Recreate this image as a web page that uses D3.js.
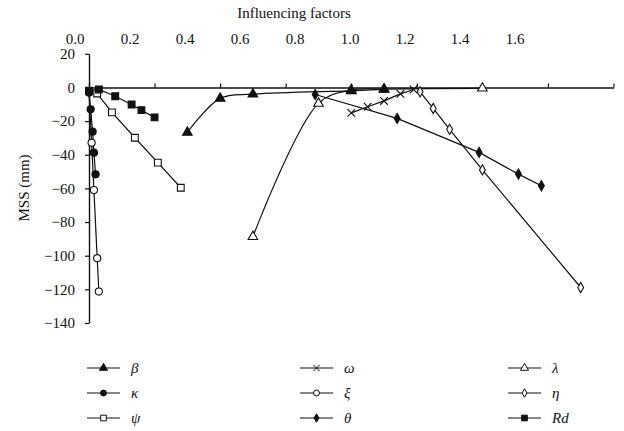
<!DOCTYPE html>
<html>
<head>
<meta charset="utf-8">
<script src="https://cdn.jsdelivr.net/npm/d3@7"></script>
<style>
  body { margin: 0; background: #fff; }
  text { font-family: "Liberation Serif", "DejaVu Serif", serif; fill: #111; }
</style>
</head>
<body>
<svg id="chart"></svg>
<script>
const width = 624, height = 431;

// axis ticks
const xTicks = [0, 0.2, 0.4, 0.6, 0.8, 1.0, 1.2, 1.4, 1.6];
const yTicks = [20, 0, -20, -40, -60, -80, -100, -120, -140];

// series values [influencing factor, MSS]
const beta   = [[0.30, -26.7], [0.40, -6.5], [0.50, -4.0], [0.80, -2.0], [0.90, -1.2]];
const kappa  = [[0.000, -3.0], [0.005, -13.0], [0.011, -26.3], [0.015, -38.8], [0.020, -51.6]];
const psi    = [[0.025, -3.6], [0.07, -14.8], [0.14, -29.9], [0.21, -44.7], [0.28, -59.6]];
const omega  = [[0.80, -15.1], [0.85, -11.5], [0.90, -8.0], [0.95, -3.8], [0.99, -1.2]];
const xi     = [[0.000, -3.0], [0.008, -32.9], [0.015, -61.0], [0.025, -101.5], [0.030, -121.3]];
const theta  = [[0.69, -4.2], [0.94, -18.4], [1.19, -38.6], [1.31, -51.5], [1.38, -58.4]];
const lambda = [[0.50, -88.7], [0.70, -9.5], [0.80, -1.5], [0.90, -1.0], [1.20, -0.5]];
const eta    = [[1.01, -2.6], [1.05, -12.5], [1.10, -24.9], [1.20, -49.0], [1.50, -118.9]];
const rd     = [[0.000, -2.0], [0.03, -1.2], [0.08, -5.2], [0.13, -10.1], [0.16, -13.5], [0.20, -17.8]];

const symX = d3.symbolTimes || d3.symbolX;

// legend order: columns left to right, rows top to bottom
const series = [
  {name: "β",  data: beta,   sym: d3.symbolTriangle, fill: true,  smooth: true,  col: 0, row: 0},
  {name: "κ",  data: kappa,  sym: d3.symbolCircle,   fill: true,  smooth: false, col: 0, row: 1},
  {name: "ψ",  data: psi,    sym: d3.symbolSquare,   fill: false, smooth: false, col: 0, row: 2},
  {name: "ω",  data: omega,  sym: symX,              fill: false, smooth: false, col: 1, row: 0},
  {name: "ξ",  data: xi,     sym: d3.symbolCircle,   fill: false, smooth: false, col: 1, row: 1},
  {name: "θ",  data: theta,  sym: d3.symbolDiamond,  fill: true,  smooth: false, col: 1, row: 2},
  {name: "λ",  data: lambda, sym: d3.symbolTriangle, fill: false, smooth: true,  col: 2, row: 0},
  {name: "η",  data: eta,    sym: d3.symbolDiamond,  fill: false, smooth: false, col: 2, row: 1},
  {name: "Rd", data: rd,     sym: d3.symbolSquare,   fill: true,  smooth: false, col: 2, row: 2}
];
// λ goes underneath so the filled β triangles stay on top
const drawOrder = ["λ", "η", "ω", "θ", "ξ", "ψ", "κ", "Rd", "β"];

const svg = d3.select('#chart').attr('width', width).attr('height', height);
svg.append('rect').attr('width', width).attr('height', height).attr('fill', '#fff');

const x = d3.scaleLinear().domain([0, 1.6]).range([89, 613.5]);
const y = d3.scaleLinear().domain([20, -140]).range([53.8, 323]);
// tick labels of the top axis sit on their own spacing in the original
const xLab = d3.scaleLinear().domain([0, 1.6]).range([75, 515]);

function symSize(s, legend) {
  let k = legend ? 0.7 : 1;
  if (s === d3.symbolTriangle) return 40 * k;
  if (s === d3.symbolCircle) return 40 * k;
  if (s === d3.symbolSquare) return 46 * k;
  if (s === d3.symbolDiamond) return 30 * k;
  return 40 * k;
}

// y axis
const yAxis = svg.append('g')
  .attr('transform', 'translate(' + x(0) + ',0)')
  .call(d3.axisLeft(y).tickValues(yTicks).tickSize(4).tickSizeOuter(0).tickPadding(10)
    .tickFormat(d3.format('d')));
yAxis.selectAll('text').style('font-size', '15px').style('fill', '#111');
yAxis.select('.domain').attr('stroke', '#111').attr('stroke-width', 1.4);
yAxis.selectAll('.tick line').attr('stroke', '#111').attr('stroke-width', 1.2);

// x axis along y = 0, ticks pointing up, labels drawn separately
const xAxis = svg.append('g')
  .attr('transform', 'translate(0,' + y(0) + ')')
  .call(d3.axisTop(x).tickValues(xTicks).tickSize(4).tickSizeOuter(0).tickFormat(''));
xAxis.select('.domain').attr('stroke', '#111').attr('stroke-width', 1.4);
xAxis.selectAll('.tick line').attr('stroke', '#111').attr('stroke-width', 1.2);

svg.append('g').selectAll('text').data(xTicks).enter().append('text')
  .attr('x', d => xLab(d))
  .attr('y', 44)
  .attr('text-anchor', 'middle')
  .style('font-size', '15px')
  .text(d => d3.format('.1f')(d));

svg.append('text')
  .attr('x', 294).attr('y', 18)
  .attr('text-anchor', 'middle')
  .style('font-size', '15px')
  .text('Influencing factors');

svg.append('text')
  .attr('transform', 'translate(29,188) rotate(-90)')
  .attr('text-anchor', 'middle')
  .style('font-size', '15px')
  .text('MSS (mm)');

const ordered = drawOrder.map(n => series.find(s => s.name === n));

// lines
const g = svg.append('g');
ordered.forEach(s => {
  const line = d3.line()
    .x(d => x(d[0])).y(d => y(d[1]))
    .curve(s.smooth ? d3.curveCatmullRom.alpha(0.5) : d3.curveLinear);
  g.append('path')
    .datum(s.data)
    .attr('d', line)
    .attr('fill', 'none')
    .attr('stroke', '#111')
    .attr('stroke-width', 1.2);
});

// markers
ordered.forEach(s => {
  g.append('g').selectAll('path').data(s.data).enter().append('path')
    .attr('transform', d => 'translate(' + x(d[0]) + ',' + y(d[1]) + ')')
    .attr('d', d3.symbol().type(s.sym).size(symSize(s.sym, false)))
    .attr('fill', s.sym === symX ? 'none' : (s.fill ? '#111' : '#fff'))
    .attr('stroke', '#111')
    .attr('stroke-width', 1.1);
});

// legend
const colX = [87, 300, 508];
const rowY = [368, 393, 418];
const leg = svg.append('g');
series.forEach(s => {
  const lx = colX[s.col], ly = rowY[s.row];
  const item = leg.append('g').attr('transform', 'translate(' + lx + ',' + ly + ')');
  item.append('line').attr('x1', 0).attr('x2', 33).attr('y1', 0).attr('y2', 0)
    .attr('stroke', '#111').attr('stroke-width', 1.2);
  item.append('path')
    .attr('transform', 'translate(16.5,0)')
    .attr('d', d3.symbol().type(s.sym).size(symSize(s.sym, true)))
    .attr('fill', s.sym === symX ? 'none' : (s.fill ? '#111' : '#fff'))
    .attr('stroke', '#111')
    .attr('stroke-width', 1);
  item.append('text')
    .attr('x', 44).attr('y', 5)
    .style('font-size', '15px')
    .style('font-style', 'italic')
    .text(s.name);
});
</script>
</body>
</html>
